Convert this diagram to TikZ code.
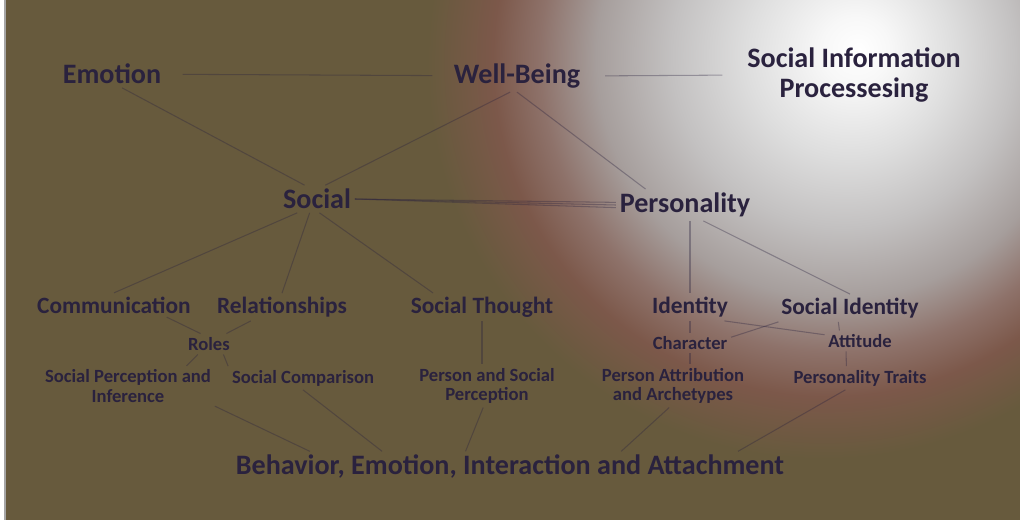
\documentclass[tikz,border=0pt]{standalone}
\usepackage{fontspec}
\setmainfont{Carlito}
\usetikzlibrary{calc}

\definecolor{olivebg}{RGB}{103,90,61}
\definecolor{ringred}{RGB}{124,88,74}
\definecolor{rosy}{RGB}{142,114,106}
\definecolor{midgrey}{RGB}{166,158,156}
\definecolor{lightgrey}{RGB}{195,193,193}
\definecolor{palegrey}{RGB}{222,222,222}
\definecolor{ink}{RGB}{42,34,62}

\pgfdeclareradialshading{glow}{\pgfpoint{4.6bp}{1.8bp}}{%
  color(0bp)=(white); color(2bp)=(white!97!black); color(6bp)=(palegrey);
  color(10bp)=(lightgrey); color(14bp)=(midgrey); color(17bp)=(rosy);
  color(19.5bp)=(ringred); color(23bp)=(olivebg); color(50bp)=(olivebg)}

\begin{document}
\begin{tikzpicture}[x=0.02cm, y=-0.02cm,
  big/.style={font=\bfseries\fontsize{16}{17}\selectfont, text=ink, align=center, inner sep=2pt},
  mid/.style={font=\bfseries\fontsize{13.3}{15}\selectfont, text=ink, align=center, inner sep=2pt},
  small/.style={font=\bfseries\fontsize{10.6}{11}\selectfont, text=ink, align=center, inner sep=2pt},
  link/.style={draw=ink, draw opacity=.35, line width=.6pt}]
  \useasboundingbox (0,0) rectangle (1020,520);
  \begin{scope}
    \clip (0,0) rectangle (1020,520);
    \fill[olivebg] (0,0) rectangle (1020,520);
    \shade[shading=glow] (780,80) circle (430);
    \fill[white] (0,0) rectangle (5,520);
    \draw[black!35, line width=.6pt] (5,0) -- (5,520);
  \end{scope}

  \node[big] (emo) at (112,74) {Emotion};
  \node[big] (wb) at (517,76) {Well-Being};
  \node[big] (sip) at (854,75) {Social Information\\Processesing};
  \node[big] (soc) at (317,199) {Social};
  \node[big] (pers) at (685,205) {Personality};
  \node[mid] (com) at (114,305) {Communication};
  \node[mid] (rel) at (282,307) {Relationships};
  \node[mid] (st) at (482,307) {Social Thought};
  \node[mid] (id) at (690,307) {Identity};
  \node[mid] (sid) at (850,308) {Social Identity};
  \node[small] (roles) at (209,344) {Roles};
  \node[small] (char) at (690,343) {Character};
  \node[small] (att) at (860,341) {Attitude};
  \node[small] (spi) at (128,386) {Social Perception and\\Inference};
  \node[small] (sc) at (303,378) {Social Comparison};
  \node[small] (psp) at (487,386) {Person and Social\\Perception};
  \node[small] (paa) at (673,386) {Person Attribution\\and Archetypes};
  \node[small] (pt) at (860,378) {Personality Traits};
  \node[big] (beh) at (510,467) {Behavior, Emotion, Interaction and Attachment};

  \draw[link, shorten <=10pt, shorten >=10pt] (emo) -- (wb);
  \draw[link, shorten <=12pt, shorten >=12pt] (wb.east) -- (sip.west);
  \foreach \a/\b in {emo.-54/soc.132, wb.-113/soc.59, wb.south/pers.158,
    soc.-145/com.north, soc.-118/rel.north, soc.-80/st.164, pers.-41/sid.north,
    com.-13/roles.129, rel.-156/roles.31, roles.-137/spi.19, roles.-36/sc.171,
    id.south/char.north, id.-22/att.170, sid.-169/char.8, sid.-130/att.153, att.-143/pt.139}
    \draw[link] (\a) -- (\b);
  \foreach \s in {-1.5,0,1.5}
    \draw[link] (soc.east) -- ([yshift=\s pt]pers.west);
  \draw[link] (id.north |- pers.south) -- (id.north);
  \draw[link] (st.south) -- (st.south |- psp.north);
  \draw[link] (char.south) -- (char.south |- paa.north);
  \foreach \n/\f in {spi.south east/.14, sc.south/.27, psp.-100/.42, paa.-100/.70, pt.-141/.91}
    \draw[link] (\n) -- ($(beh.north west)!\f!(beh.north east)$);
\end{tikzpicture}
\end{document}
